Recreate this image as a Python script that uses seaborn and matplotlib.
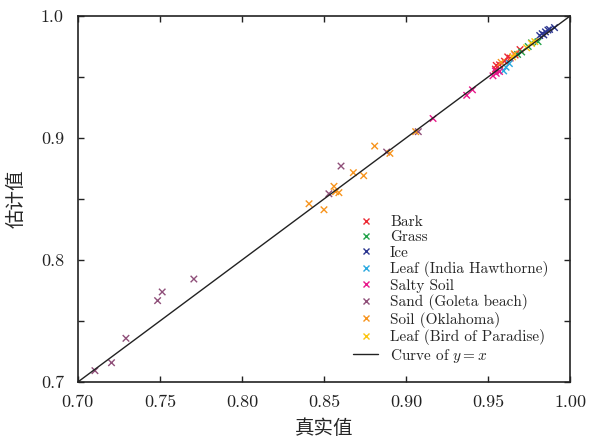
import matplotlib
matplotlib.use("Agg")
import matplotlib.pyplot as plt
import seaborn as sns
import pandas as pd
import numpy as np
from matplotlib.ticker import MultipleLocator, FormatStrFormatter

categories = ["Bark", "Grass", "Ice", "Leaf (India Hawthorne)", "Salty Soil",
              "Sand (Goleta beach)", "Soil (Oklahoma)", "Leaf (Bird of Paradise)"]
colors = ["#ec2a34", "#22a34a", "#2b3590", "#2aa9e0", "#e8198b",
          "#8f4f79", "#f7941d", "#fcc50f"]

bark_x = [0.9545, 0.957, 0.960, 0.9635, 0.9665, 0.9695, 0.955, 0.962]
bark_y = [0.9565, 0.960, 0.963, 0.9655, 0.968, 0.9725, 0.9595, 0.9665]
grass_x = [0.9705, 0.9745, 0.9765, 0.9805, 0.968]
grass_y = [0.9705, 0.975, 0.978, 0.979, 0.9685]
ice_x = [0.9815, 0.983, 0.985, 0.9875, 0.9905, 0.984, 0.9865]
ice_y = [0.984, 0.9855, 0.987, 0.989, 0.9905, 0.9845, 0.9885]
hawthorne_x = [0.9595, 0.961, 0.963]
hawthorne_y = [0.955, 0.958, 0.961]
salty_x = [0.9165, 0.937, 0.9405, 0.953, 0.955, 0.9545, 0.957]
salty_y = [0.916, 0.935, 0.9395, 0.951, 0.953, 0.955, 0.9545]
sand_x = [0.7104, 0.7205, 0.7293, 0.7486, 0.7514, 0.7707, 0.853, 0.8604, 0.8882, 0.9075]
sand_y = [0.7093, 0.7158, 0.7358, 0.7667, 0.7738, 0.7844, 0.8543, 0.877, 0.8885, 0.9052]
soil_x = [0.8409, 0.850, 0.8561, 0.8571, 0.8591, 0.8679, 0.8742, 0.8809, 0.8902, 0.9059, 0.958, 0.966]
soil_y = [0.8461, 0.8412, 0.8604, 0.856, 0.8552, 0.8716, 0.8691, 0.8934, 0.8874, 0.9052, 0.962, 0.969]
paradise_x = [0.965, 0.9735, 0.9785, 0.9765]
paradise_y = [0.9665, 0.974, 0.979, 0.9775]

xs = [bark_x, grass_x, ice_x, hawthorne_x, salty_x, sand_x, soil_x, paradise_x]
ys = [bark_y, grass_y, ice_y, hawthorne_y, salty_y, sand_y, soil_y, paradise_y]

rows = []
for c, xv, yv in zip(categories, xs, ys):
    for a, b in zip(xv, yv):
        rows.append({"true": a, "est": b, "cat": c})
df = pd.DataFrame(rows)

sns.set_style("ticks")
plt.rcParams["font.family"] = ["cmr10", "Noto Sans CJK SC"]
plt.rcParams["mathtext.fontset"] = "cm"
plt.rcParams["axes.formatter.use_mathtext"] = True

fig = plt.figure(figsize=(5.99, 4.41), dpi=100)
ax = fig.add_axes([0.130, 0.1338, 0.8217, 0.8299])

sns.scatterplot(data=df, x="true", y="est", hue="cat", hue_order=categories,
                palette=colors, marker="x", s=22, linewidth=1.0, ax=ax, legend=True)
line_x = [0.7, 1.0]
ax.plot(line_x, line_x, color="#222222", lw=1.0, label="Curve of $y = x$")

ax.set_xlim(0.7, 1.0)
ax.set_ylim(0.7, 1.0)
ax.xaxis.set_major_locator(MultipleLocator(0.05))
ax.xaxis.set_major_formatter(FormatStrFormatter("%.2f"))
ax.yaxis.set_major_locator(MultipleLocator(0.1))
ax.yaxis.set_minor_locator(MultipleLocator(0.05))
ax.yaxis.set_major_formatter(FormatStrFormatter("%.1f"))
ax.tick_params(which="both", direction="in", top=True, right=True, labelsize=13,
               length=4, width=1, colors="#222222")
ax.tick_params(axis="x", pad=9)
ax.tick_params(axis="y", pad=10)
ax.tick_params(which="minor", length=4)
for s in ax.spines.values():
    s.set_linewidth(1.2)
    s.set_color("#222222")

ax.set_xlabel("真实值", fontsize=14, family=["Noto Sans CJK SC"], labelpad=6)
ax.set_ylabel("估计值", fontsize=14, family=["Noto Sans CJK SC"], labelpad=10)

handles, labels = ax.get_legend_handles_labels()
ax.legend(handles, labels, loc="lower right", bbox_to_anchor=(0.975, 0.022),
          frameon=False, fontsize=11,
          handlelength=1.6, handletextpad=0.8, labelspacing=0.1,
          borderaxespad=0.2)

fig.savefig("out.png", dpi=100)
